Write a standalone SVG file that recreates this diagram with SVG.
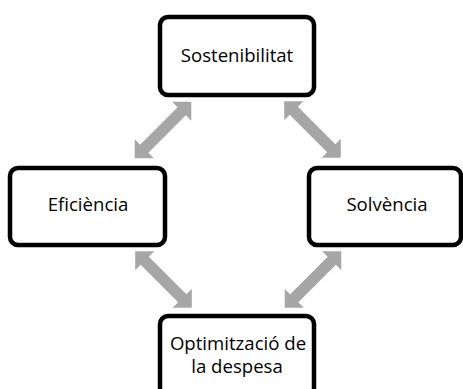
<svg xmlns="http://www.w3.org/2000/svg" xmlns:xlink="http://www.w3.org/1999/xlink" width="463" height="389" viewBox="0 0 463 389">
  <style>
    .box { fill: #ffffff; stroke: #000000; stroke-width: 4.5; }
    .lbl { font-family: "Open Sans", "Noto Sans", "Liberation Sans", sans-serif; font-size: 18.6px; fill: #000000; text-anchor: middle; }
    .arr { fill: #a6a6a6; }
  </style>
  <defs>
    <polygon id="dbl" points="-40,0 -26.5,-13.5 -26.5,-5.8 26.5,-5.8 26.5,-13.5 40,0 26.5,13.5 26.5,5.8 -26.5,5.8 -26.5,13.5"/>
  </defs>
  <rect width="463" height="389" fill="#ffffff"/>
  <g id="connectors" class="arr">
    <use xlink:href="#dbl" href="#dbl" transform="translate(163,130) rotate(-45)"/>
    <use xlink:href="#dbl" href="#dbl" transform="translate(312.5,129.5) rotate(45)"/>
    <use xlink:href="#dbl" href="#dbl" transform="translate(163.5,279.5) rotate(45)"/>
    <use xlink:href="#dbl" href="#dbl" transform="translate(313,279.5) rotate(-45)"/>
  </g>
  <g id="node-sostenibilitat">
    <rect class="box" x="160" y="17" width="154" height="78" rx="8"/>
    <text class="lbl" x="237" y="62">Sostenibilitat</text>
  </g>
  <g id="node-eficiencia">
    <rect class="box" x="10" y="168" width="155" height="77" rx="8"/>
    <text class="lbl" x="88" y="211">Eficiència</text>
  </g>
  <g id="node-solvencia">
    <rect class="box" x="309" y="168" width="152" height="77" rx="8"/>
    <text class="lbl" x="387" y="211">Solvència</text>
  </g>
  <g id="node-optimitzacio">
    <rect class="box" x="160" y="316" width="154" height="80" rx="8"/>
    <text class="lbl" x="238" y="350">Optimització de</text>
    <text class="lbl" x="237" y="373">la despesa</text>
  </g>
</svg>
